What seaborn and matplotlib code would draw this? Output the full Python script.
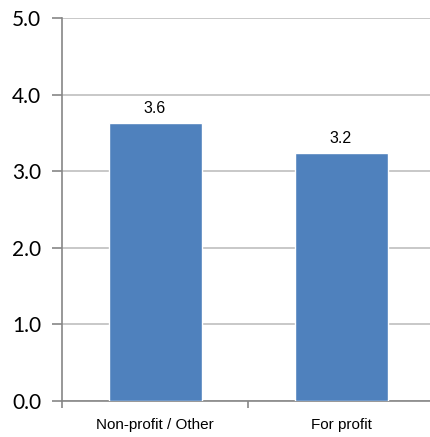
import matplotlib
matplotlib.use("Agg")
import matplotlib.pyplot as plt
import seaborn as sns
import pandas as pd
from matplotlib.ticker import FixedLocator

categories = ["Non-profit / Other", "For profit"]
values = [3.63, 3.24]
value_labels = ["3.6", "3.2"]
y_ticks = [0.0, 1.0, 2.0, 3.0, 4.0, 5.0]
y_tick_labels = ["0.0", "1.0", "2.0", "3.0", "4.0", "5.0"]

sns.set_theme(style="white")
plt.rcParams["font.family"] = ["Liberation Sans", "DejaVu Sans"]

df = pd.DataFrame({"category": categories, "value": values})

fig = plt.figure(figsize=(4.30, 4.37), dpi=100)
ax = fig.add_axes([62 / 430, 36 / 437, 372 / 430, 383 / 437])

sns.barplot(data=df, x="category", y="value", color="#4F81BD", saturation=1,
            width=0.5, ax=ax, zorder=3)

ax.set_ylim(0, 5)
ax.set_xlim(-0.5, 1.5)
ax.set_yticks(y_ticks)
ax.set_yticklabels(y_tick_labels, fontsize=15, family=["Lato", "DejaVu Sans"],
                   color="black")
ax.yaxis.grid(True, color="#BFBFBF", linewidth=1.2, zorder=0)
ax.set_axisbelow(True)
ax.set_xlabel("")
ax.set_ylabel("")

for s in ["top", "right"]:
    ax.spines[s].set_visible(False)
for s in ["left", "bottom"]:
    ax.spines[s].set_color("#868686")
    ax.spines[s].set_linewidth(1.2)

ax.tick_params(axis="y", which="major", direction="out", length=7, width=1.2,
               color="#868686", left=True, pad=8)
ax.tick_params(axis="x", which="major", length=0, labelsize=11, pad=12)
ax.xaxis.set_minor_locator(FixedLocator([-0.5, 0.5, 1.5]))
ax.tick_params(axis="x", which="minor", direction="out", length=5, width=1.2,
               color="#868686", bottom=True)
for lbl in ax.get_xticklabels():
    lbl.set_color("black")

for i, (v, t) in enumerate(zip(values, value_labels)):
    ax.annotate(t, (i, v), xytext=(0, 5), textcoords="offset points",
                ha="center", va="bottom", fontsize=11.5, color="black")

fig.savefig("out.png", dpi=100)
